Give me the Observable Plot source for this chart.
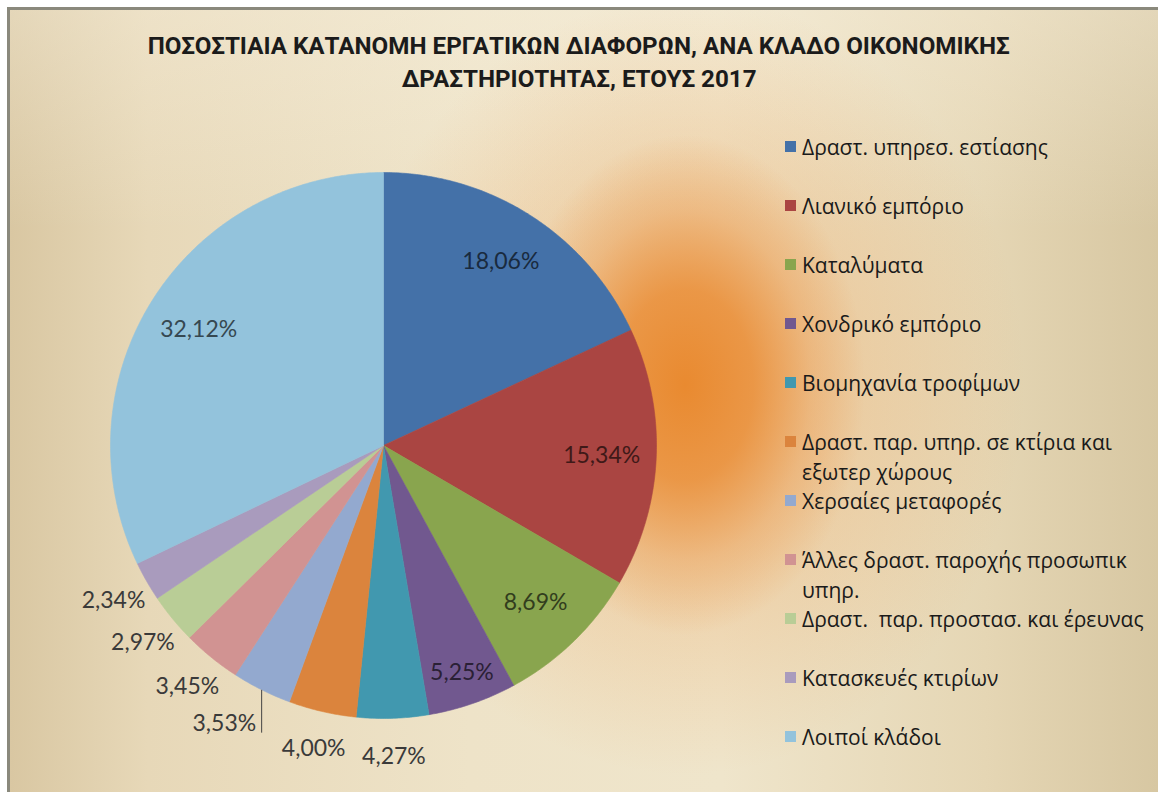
<!DOCTYPE html>
<html><head><meta charset="utf-8">
<script src="https://cdn.jsdelivr.net/npm/d3@7"></script>
<script src="https://cdn.jsdelivr.net/npm/@observablehq/plot@0.6"></script>
<style>
html,body{margin:0;padding:0;background:#fff;}
#page{position:relative;width:1158px;height:792px;overflow:hidden;}
#bg{position:absolute;left:7px;top:7px;width:1151px;height:785px;box-sizing:border-box;
  border-top:3px solid #8a897c;border-left:3px solid #8a897c;
  background:
    radial-gradient(ellipse 180px 250px at 675px 375px, rgba(233,138,48,1) 0%, rgba(234,146,62,0.9) 38%, rgba(236,165,95,0.5) 70%, rgba(237,178,115,0) 100%),
    radial-gradient(ellipse 340px 390px at 675px 375px, rgba(236,160,90,0.6) 0%, rgba(237,172,105,0.3) 55%, rgba(237,178,115,0) 100%),
    linear-gradient(to bottom, rgba(250,244,228,0.35) 0px, rgba(250,244,228,0) 220px),
    linear-gradient(to right, #d9c7a2 0%, #e7d8b8 12%, #eee3c8 40%, #efe5cb 62%, #e5d6b4 85%, #d7c7a2 100%);
}
#title{position:absolute;left:0;width:1158px;top:30px;text-align:center;
  font-family:Roboto,"Noto Sans",sans-serif;font-weight:bold;font-size:24px;line-height:33px;color:#1b1b1b;}
#title span{display:inline-block;white-space:nowrap;transform-origin:center;}
#chart{position:absolute;left:0;top:105px;}
#legend{position:absolute;left:0;top:0;width:1158px;height:792px;pointer-events:none;}
.item{position:absolute;left:785px;}
.sw{position:absolute;left:0;width:11px;height:11px;}
.lt{position:absolute;left:17px;white-space:pre;font-family:"Open Sans","Noto Sans",sans-serif;font-size:21px;line-height:30px;color:#1a1a1a;}
</style>
</head>
<body>
<div id="page">
  <div id="bg"></div>
  <div id="title"></div>
  <div id="chart"></div>
  <div id="legend"></div>
</div>
<script>
// ---- data ----
const titleLines = [
  "ΠΟΣΟΣΤΙΑΙΑ ΚΑΤΑΝΟΜΗ ΕΡΓΑΤΙΚΩΝ ΔΙΑΦΟΡΩΝ, ΑΝΑ ΚΛΑΔΟ ΟΙΚΟΝΟΜΙΚΗΣ",
  "ΔΡΑΣΤΗΡΙΟΤΗΤΑΣ, ΕΤΟΥΣ 2017"
];
const categories = [
  "Δραστ. υπηρεσ. εστίασης",
  "Λιανικό εμπόριο",
  "Καταλύματα",
  "Χονδρικό εμπόριο",
  "Βιομηχανία τροφίμων",
  "Δραστ. παρ. υπηρ. σε κτίρια και εξωτερ χώρους",
  "Χερσαίες μεταφορές",
  "Άλλες δραστ. παροχής προσωπικ υπηρ.",
  "Δραστ.  παρ. προστασ. και έρευνας",
  "Κατασκευές κτιρίων",
  "Λοιποί κλάδοι"
];
const legendLabels = [
  "Δραστ. υπηρεσ. εστίασης",
  "Λιανικό εμπόριο",
  "Καταλύματα",
  "Χονδρικό εμπόριο",
  "Βιομηχανία τροφίμων",
  "Δραστ. παρ. υπηρ. σε κτίρια και\nεξωτερ χώρους",
  "Χερσαίες μεταφορές",
  "Άλλες δραστ. παροχής προσωπικ\nυπηρ.",
  "Δραστ.  παρ. προστασ. και έρευνας",
  "Κατασκευές κτιρίων",
  "Λοιποί κλάδοι"
];
const values = [18.06, 15.34, 8.69, 5.25, 4.27, 4.00, 3.53, 3.45, 2.97, 2.34, 32.12];
const colors = ["#4471a8", "#aa4542", "#89a54e", "#71588f", "#4198af", "#db843d",
                "#93a9cf", "#d19392", "#b9cd96", "#a99bbd", "#93c3dc"];
const leaderLabels = ["Χερσαίες μεταφορές"];

// ---- title ----
const titleEl = document.getElementById("title");
titleLines.forEach((t, i) => {
  const s = document.createElement("span");
  s.textContent = t;
  titleEl.appendChild(s);
  if (i < titleLines.length - 1) titleEl.appendChild(document.createElement("br"));
});
const spans = titleEl.querySelectorAll("span");
const w0 = spans[0].getBoundingClientRect().width;
const sx = 862 / w0;
spans.forEach(s => s.style.transform = `scaleX(${sx})`);

// ---- pie geometry via d3.pie ----
const arcs = d3.pie().sort(null).startAngle(0).endAngle(2 * Math.PI)(values);
const pts = [];
arcs.forEach((a, i) => {
  const name = categories[i];
  pts.push({name, x: 0, y: 0});
  const n = Math.max(2, Math.ceil((a.endAngle - a.startAngle) / (Math.PI / 360)));
  for (let k = 0; k <= n; k++) {
    const t = a.startAngle + (a.endAngle - a.startAngle) * k / n;
    pts.push({name, x: Math.sin(t), y: Math.cos(t)});
  }
  pts.push({name, x: 0, y: 0});
});

const fmt = v => v.toFixed(2).replace(".", ",") + "%";
const labels = arcs.map((a, i) => {
  const mid = (a.startAngle + a.endAngle) / 2;
  const v = values[i];
  const inside = v >= 5;
  const leader = leaderLabels.includes(categories[i]);
  const r = inside ? (v < 6 ? 0.88 : 0.8) : 1.14;
  const ex = Math.sin(mid), ey = Math.cos(mid);
  return {
    name: categories[i], text: fmt(v), inside, leader,
    x: leader ? ex - 0.02 : r * ex,
    y: leader ? ey - 0.125 : r * ey,
    ex, ey,
    color: inside ? d3.color(colors[i]).darker(2.8).formatHex() : "#3a3a3a"
  };
});

const textMarks = labels.map(d => Plot.text([d], {
  x: "x", y: "y", text: "text",
  fill: d.color,
  textAnchor: d.leader ? "end" : "middle",
  fontFamily: "Lato, 'Open Sans', sans-serif",
  fontSize: 23
}));

const leaders = labels.filter(d => d.leader);

const chart = Plot.plot({
  width: 760, height: 687,
  marginLeft: 110, marginRight: 104, marginTop: 67, marginBottom: 74,
  x: {domain: [-1, 1], axis: null},
  y: {domain: [-1, 1], axis: null},
  color: {domain: categories, range: colors},
  style: {background: "transparent", overflow: "visible"},
  marks: [
    Plot.line(pts, {x: "x", y: "y", z: "name", fill: "name", stroke: "name", strokeWidth: 0.6, curve: "linear"}),
    Plot.link(leaders, {x1: "ex", y1: "ey", x2: "ex", y2: d => d.ey - 0.157, stroke: "#444", strokeWidth: 1}),
    ...textMarks
  ]
});
document.getElementById("chart").appendChild(chart);

// ---- legend ----
const leg = document.getElementById("legend");
legendLabels.forEach((t, i) => {
  const cy = 147 + 59 * i;
  const item = document.createElement("div");
  item.className = "item";
  item.style.top = (cy - 15) + "px";
  const sw = document.createElement("div");
  sw.className = "sw";
  sw.style.top = "9px";
  sw.style.background = colors[i];
  const lt = document.createElement("div");
  lt.className = "lt";
  lt.style.top = "0px";
  lt.textContent = t;
  item.appendChild(sw);
  item.appendChild(lt);
  leg.appendChild(item);
});
</script>
</body></html>
